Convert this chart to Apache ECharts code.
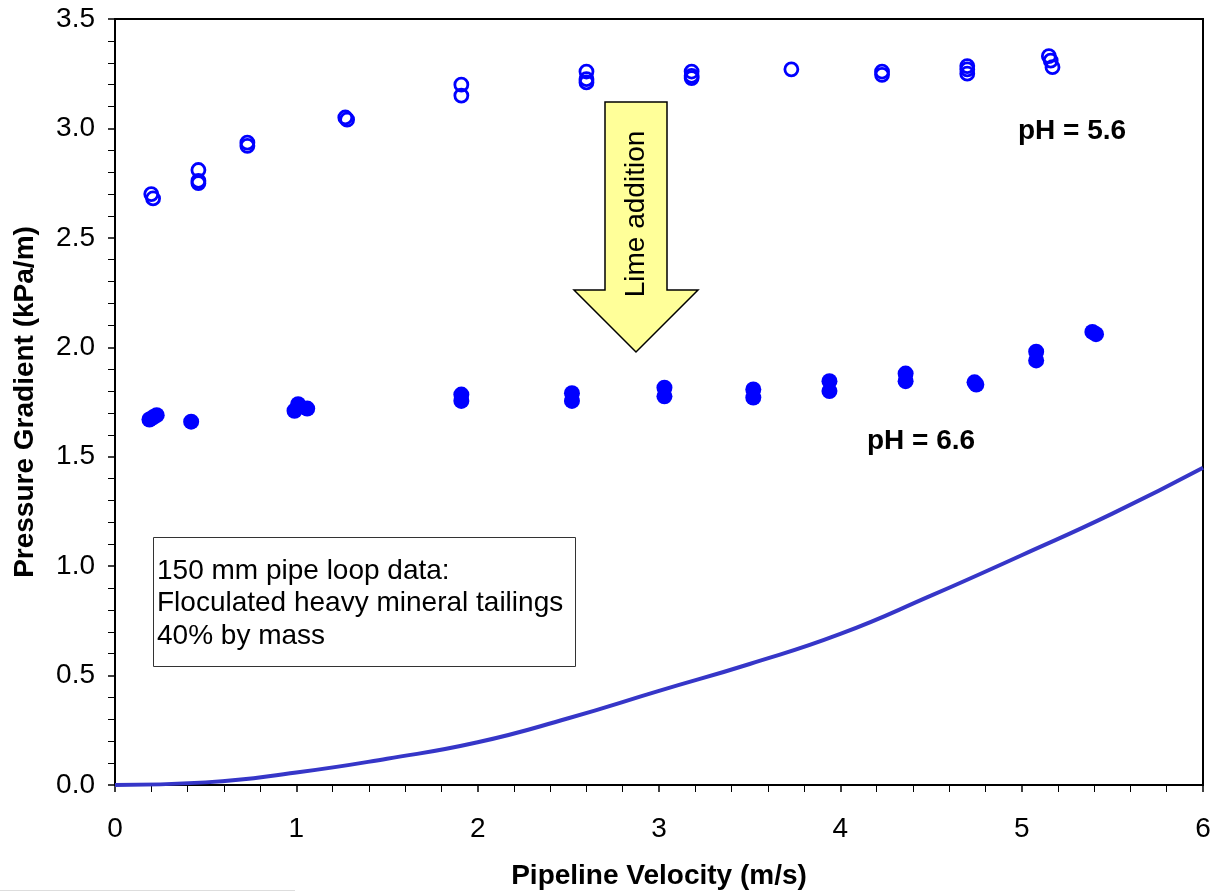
<!DOCTYPE html>
<html>
<head>
<meta charset="utf-8">
<script src="https://cdn.jsdelivr.net/npm/echarts@6/dist/echarts.min.js"></script>
<style>
html,body{margin:0;padding:0;background:#fff;}
#chart{width:1215px;height:895px;}
</style>
</head>
<body>
<div id="chart"></div>
<script>
// pH = 5.6 (open circles) : [velocity m/s, gradient kPa/m]
const ph56 = [
  [0.20, 2.70], [0.21, 2.68],
  [0.46, 2.81], [0.46, 2.76], [0.46, 2.75],
  [0.73, 2.935], [0.73, 2.92],
  [1.27, 3.05], [1.28, 3.04],
  [1.91, 3.20], [1.91, 3.15],
  [2.60, 3.26], [2.60, 3.225], [2.60, 3.21],
  [3.18, 3.26], [3.18, 3.24], [3.18, 3.23],
  [3.73, 3.27],
  [4.23, 3.26], [4.23, 3.245],
  [4.70, 3.285], [4.70, 3.27], [4.70, 3.25],
  [5.15, 3.33], [5.16, 3.31], [5.17, 3.28]
];
// pH = 6.6 (filled circles)
const ph66 = [
  [0.19, 1.67], [0.21, 1.68], [0.23, 1.69],
  [0.42, 1.66],
  [0.99, 1.71], [1.01, 1.74], [1.06, 1.72],
  [1.91, 1.784], [1.91, 1.755],
  [2.52, 1.79], [2.52, 1.755],
  [3.03, 1.815], [3.03, 1.776],
  [3.52, 1.807], [3.52, 1.77],
  [3.94, 1.845], [3.94, 1.80],
  [4.36, 1.88], [4.36, 1.845],
  [4.74, 1.84], [4.75, 1.83],
  [5.08, 1.98], [5.08, 1.94],
  [5.39, 2.07], [5.41, 2.06]
];
// Water / reference curve
const curve = [
  [0, 0], [0.5, 0.012], [1, 0.057], [1.5, 0.12], [2, 0.195], [2.5, 0.305],
  [3, 0.43], [3.5, 0.553], [4, 0.69], [4.5, 0.865], [5, 1.05], [5.5, 1.24], [6, 1.45]
];
const xTitle = 'Pipeline Velocity (m/s)';
const yTitle = 'Pressure Gradient (kPa/m)';
const noteLines = ['150 mm pipe loop data:', 'Floculated heavy mineral tailings', '40% by mass'];

const chart = echarts.init(document.getElementById('chart'));
const FONT = 'Liberation Sans, Arial, sans-serif';
const FS = 28;
const option = {
  backgroundColor: '#fff',
  animation: false,
  grid: { left: 115, right: 12, top: 19, bottom: 110, show: true, borderColor: '#000', borderWidth: 2, backgroundColor: '#fff' },
  xAxis: {
    type: 'value', min: 0, max: 6, interval: 1,
    name: xTitle, nameLocation: 'middle', nameGap: 77,
    nameTextStyle: { fontFamily: FONT, fontSize: FS, fontWeight: 'bold', color: '#000' },
    axisLine: { show: true, lineStyle: { color: '#000', width: 2 } },
    axisTick: { show: true, inside: false, length: 7, lineStyle: { color: '#000', width: 1.5 } },
    minorTick: { show: true, splitNumber: 5, length: 7, lineStyle: { color: '#000', width: 1 } },
    axisLabel: { margin: 30, fontFamily: FONT, fontSize: FS, color: '#000' },
    splitLine: { show: false }
  },
  yAxis: {
    type: 'value', min: 0, max: 3.5, interval: 0.5,
    name: yTitle, nameLocation: 'middle', nameGap: 76,
    nameTextStyle: { fontFamily: FONT, fontSize: FS, fontWeight: 'bold', color: '#000' },
    axisLine: { show: true, lineStyle: { color: '#000', width: 2 } },
    axisTick: { show: true, inside: false, length: 7, lineStyle: { color: '#000', width: 1.5 } },
    minorTick: { show: true, splitNumber: 5, length: 7, lineStyle: { color: '#000', width: 1 } },
    axisLabel: { margin: 20, fontFamily: FONT, fontSize: FS, color: '#000', formatter: v => v.toFixed(1) },
    splitLine: { show: false }
  },
  series: [
    {
      type: 'line', data: curve, smooth: 0.5, symbol: 'none',
      lineStyle: { color: '#3636C8', width: 4 }, z: 2
    },
    {
      type: 'scatter', data: ph56, symbol: 'circle', symbolSize: 13,
      itemStyle: { color: 'rgba(255,255,255,0)', borderColor: '#0000FF', borderWidth: 2.8, opacity: 1 }, z: 3
    },
    {
      type: 'scatter', data: ph66, symbol: 'circle', symbolSize: 16,
      itemStyle: { color: '#0000FF', opacity: 1 }, z: 3
    }
  ],
  graphic: [
    // annotation box
    { type: 'rect', shape: { x: 153.5, y: 537.5, width: 422, height: 129 },
      style: { fill: '#fff', stroke: '#333', lineWidth: 1 }, z: 10 },
    { type: 'text', x: 157, y: 555, z: 11,
      style: { text: noteLines.join('\n'), font: FS + 'px ' + FONT, fill: '#000', lineHeight: 32.5 } },
    // Lime addition arrow
    { type: 'polygon', z: 10,
      shape: { points: [[605, 102], [667, 102], [667, 290], [698, 290], [636, 352], [574, 290], [605, 290]] },
      style: { fill: '#FFFF99', stroke: '#000', lineWidth: 1.5 } },
    { type: 'text', x: 636, y: 214, rotation: Math.PI / 2, z: 11,
      style: { text: 'Lime addition', font: FS + 'px ' + FONT, fill: '#000', align: 'center', verticalAlign: 'middle' } },
    // pH labels
    { type: 'text', x: 1018, y: 131, z: 11,
      style: { text: 'pH = 5.6', font: 'bold ' + FS + 'px ' + FONT, fill: '#000', verticalAlign: 'middle' } },
    { type: 'text', x: 867, y: 441, z: 11,
      style: { text: 'pH = 6.6', font: 'bold ' + FS + 'px ' + FONT, fill: '#000', verticalAlign: 'middle' } },
    // faint line at bottom-left
    { type: 'line', shape: { x1: 0, y1: 890.5, x2: 295, y2: 890.5 }, style: { stroke: '#ddd', lineWidth: 1 } }
  ]
};
chart.setOption(option);
</script>
</body>
</html>
